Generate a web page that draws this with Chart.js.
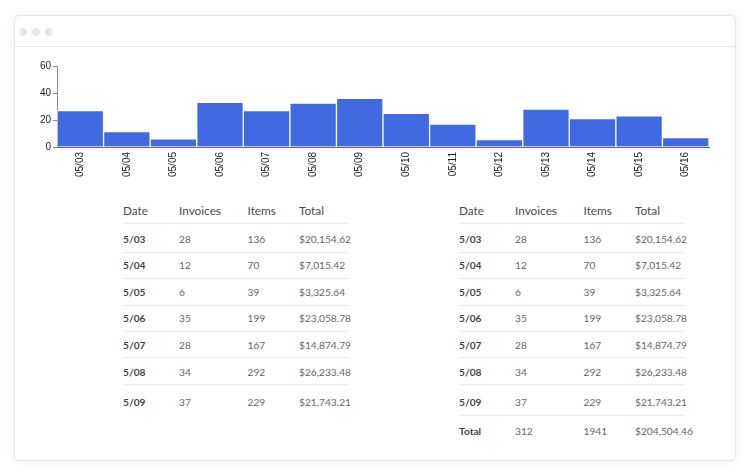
<!DOCTYPE html>
<html>
<head>
<meta charset="utf-8">
<script src="https://cdn.jsdelivr.net/npm/chart.js@4"></script>
<style>
  html, body { margin: 0; padding: 0; background: #ffffff; width: 753px; height: 473px; overflow: hidden; }
  .card { position: absolute; left: 14px; top: 15px; width: 720px; height: 444px; background: #fff;
          border: 1px solid #e6e6e6; border-radius: 5px; box-shadow: 0 0 12px rgba(0,0,0,0.06); }
  .bar { position: absolute; left: 0; top: 0; right: 0; height: 30px; border-bottom: 1px solid #e8e8e8; }
  .dot { position: absolute; top: 12px; width: 8px; height: 8px; border-radius: 50%; background: #e8e8e8; }
  #chartBox { position: absolute; left: 20px; top: 56px; width: 700px; height: 130px; }
  .tbl { position: absolute; width: 226px; font-family: Lato, "Liberation Sans", sans-serif; font-size: 10.2px; color: #666; }
  .row { position: relative; box-sizing: border-box; border-bottom: 1px solid #ececec; }
  .row.last { border-bottom: none; }
  .cell { position: absolute; line-height: 14px; white-space: nowrap; }
  .hdr .cell { color: #4a4a4a; font-size: 11.8px; }
  .cell.d { color: #444; font-weight: bold; }
</style>
</head>
<body>
<div class="card">
  <div class="bar">
    <div class="dot" style="left:4px"></div>
    <div class="dot" style="left:17px"></div>
    <div class="dot" style="left:30px"></div>
  </div>
</div>
<div id="chartBox"><canvas id="c" width="700" height="130"></canvas></div>
<div id="t1" class="tbl" style="left:123px; top:199px"></div>
<div id="t2" class="tbl" style="left:459px; top:199px"></div>
<script>
// ---- data ----
const chartLabels = ['05/03','05/04','05/05','05/06','05/07','05/08','05/09','05/10','05/11','05/12','05/13','05/14','05/15','05/16'];
const chartValues = [27, 11.5, 6, 33, 27, 32.5, 36, 25, 17, 5.5, 28, 21, 23, 7];
const yTicks = [0, 20, 40, 60];

const headers = ['Date', 'Invoices', 'Items', 'Total'];
const dates = ['5/03','5/04','5/05','5/06','5/07','5/08','5/09'];
const invoices = [28, 12, 6, 35, 28, 34, 37];
const items = [136, 70, 39, 199, 167, 292, 229];
const totals = ['$20,154.62','$7,015.42','$3,325.64','$23,058.78','$14,874.79','$26,233.48','$21,743.21'];
const totalRow = ['Total', 312, 1941, '$204,504.46'];

// ---- layout (not data) ----
const colX = [0, 56, 124.5, 176];
// [height, paddingTop] per row: header, 7 data rows, total row
const rowGeom = [[25,5],[29,8.3],[26,5.3],[27,6.3],[26,5.3],[26,6],[27,6.7],[31,9.7],[26,8]];

function buildTable(el, withTotal) {
  const rows = [headers];
  for (let i = 0; i < dates.length; i++) rows.push([dates[i], invoices[i], items[i], totals[i]]);
  if (withTotal) rows.push(totalRow);
  rows.forEach((r, i) => {
    const div = document.createElement('div');
    div.className = 'row' + (i === 0 ? ' hdr' : '') + (i === rows.length - 1 ? ' last' : '');
    div.style.height = rowGeom[i][0] + 'px';
    r.forEach((v, j) => {
      const s = document.createElement('span');
      s.className = 'cell' + (i > 0 && j === 0 ? ' d' : '');
      s.style.left = colX[j] + 'px';
      s.style.top = rowGeom[i][1] + 'px';
      s.textContent = v;
      div.appendChild(s);
    });
    el.appendChild(div);
  });
}
buildTable(document.getElementById('t1'), false);
buildTable(document.getElementById('t2'), true);

Chart.defaults.font.family = '"Liberation Sans", Arial, sans-serif';
Chart.defaults.font.size = 10;
Chart.defaults.color = '#222';

new Chart(document.getElementById('c'), {
  type: 'bar',
  data: {
    labels: chartLabels,
    datasets: [{
      data: chartValues,
      backgroundColor: '#4169e1',
      borderColor: 'rgba(255,255,255,0.85)',
      borderWidth: 1,
      barPercentage: 1,
      categoryPercentage: 1
    }]
  },
  options: {
    responsive: false,
    animation: false,
    layout: { padding: { top: 10, right: 11, left: 0, bottom: 0 } },
    plugins: { legend: { display: false }, tooltip: { enabled: false } },
    scales: {
      x: {
        grid: { display: false, drawTicks: false },
        border: { display: true, color: '#666', width: 1 },
        ticks: { autoSkip: false, minRotation: 90, maxRotation: 90, padding: 5, color: '#222' },
        afterFit: s => { s.height = 39; }
      },
      y: {
        min: 0, max: 60,
        afterBuildTicks: s => { s.ticks = yTicks.map(v => ({ value: v })); },
        grid: { display: true, drawOnChartArea: false, drawTicks: true, tickLength: 4, color: '#888' },
        border: { display: true, color: '#888', width: 1 },
        ticks: { padding: 2, color: '#222' },
        afterFit: s => { s.width = 37; }
      }
    }
  }
});
</script>
</body>
</html>
